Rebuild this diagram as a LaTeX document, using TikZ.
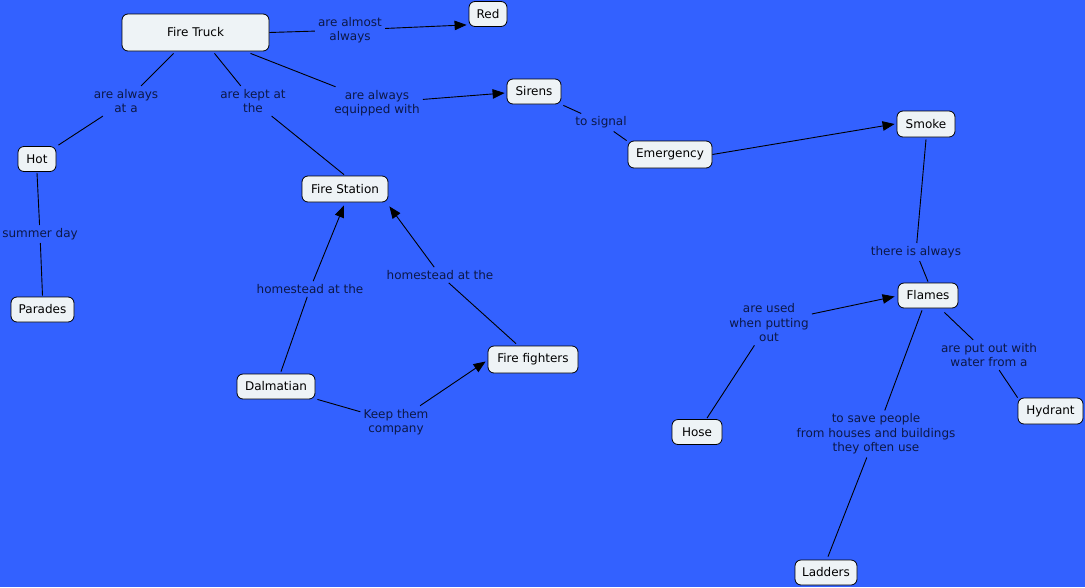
\documentclass[tikz,border=0pt]{standalone}
\usepackage{fontspec}
\setmainfont{DejaVu Sans}
\usetikzlibrary{arrows.meta,calc}
\definecolor{bg}{RGB}{51,97,255}
\definecolor{nodefill}{RGB}{238,243,246}
\definecolor{labcol}{RGB}{12,24,72}
\begin{document}
\begin{tikzpicture}[x=1pt,y=-1pt,
  concept/.style={draw=black, line width=0.8pt, rounded corners=6pt, fill=nodefill, inner sep=0pt, font=\fontsize{12}{14}\selectfont, text=black, align=center},
  lab/.style={inner sep=3pt, font=\fontsize{12}{14.5}\selectfont, text=labcol, align=center},
  link/.style={line width=0.9pt, draw=black},
  arr/.style={link, -{Triangle[length=12pt,width=9.5pt]}}]
\fill[bg] (0,0) rectangle (1085,587);
\useasboundingbox (0,0) rectangle (1085,587);
% concepts
\node[concept, minimum width=147pt, minimum height=37pt] (truck) at (195.5,32.5) {Fire Truck};
\node[concept, minimum width=38pt, minimum height=25pt] (red) at (488,14) {Red};
\node[concept, minimum width=54pt, minimum height=25pt] (sirens) at (534,91.5) {Sirens};
\node[concept, minimum width=38pt, minimum height=25pt] (hot) at (37,159) {Hot};
\node[concept, minimum width=86pt, minimum height=26pt] (station) at (345,189) {Fire Station};
\node[concept, minimum width=84pt, minimum height=27pt] (emerg) at (670,154.5) {Emergency};
\node[concept, minimum width=58pt, minimum height=26pt] (smoke) at (926,124) {Smoke};
\node[concept, minimum width=63pt, minimum height=25pt] (parades) at (42.5,309.5) {Parades};
\node[concept, minimum width=60pt, minimum height=25pt] (flames) at (928,295.5) {Flames};
\node[concept, minimum width=78pt, minimum height=25pt] (dalm) at (276,386.5) {Dalmatian};
\node[concept, minimum width=90pt, minimum height=27pt] (fighters) at (533,359.5) {Fire fighters};
\node[concept, minimum width=50pt, minimum height=25pt] (hose) at (697,432) {Hose};
\node[concept, minimum width=65pt, minimum height=26pt] (hydrant) at (1050.5,411) {Hydrant};
\node[concept, minimum width=62pt, minimum height=25pt] (ladders) at (826,572.5) {Ladders};
% linking phrases
\node[lab] (l1) at (350,30) {are almost\\always};
\node[lab] (l2) at (126,101) {are always\\at a};
\node[lab] (l3) at (253,101) {are kept at\\the};
\node[lab] (l4) at (377,103) {are always\\equipped with};
\node[lab] (l5) at (601,122.5) {to signal};
\node[lab] (l6) at (40,234) {summer day};
\node[lab] (l7) at (310,289) {homestead at the};
\node[lab] (l8) at (440,275) {homestead at the};
\node[lab] (l9) at (396,422) {Keep them\\company};
\node[lab] (l10) at (916,252) {there is always};
\node[lab] (l11) at (769,323) {are used\\when putting\\out};
\node[lab] (l12) at (989,355) {are put out with\\water from a};
\node[lab] (l13) at (876,434) {to save people\\from houses and buildings\\they often use};
% connectors
\draw[link] (truck.east) -- (l1); \draw[arr] (l1) -- ($(red.south west)+(-2,-2)$);
\draw[link] ($(truck.south)+(-22,2)$) -- (l2); \draw[link] (l2) -- ($(hot.north east)+(2,-1)$);
\draw[link] ($(truck.south)+(19,2)$) -- (l3); \draw[link] (l3) -- ($(station.north)+(-1,-1)$);
\draw[link] ($(truck.south)+(55,2)$) -- (l4); \draw[arr] (l4) -- ($(sirens.west)+(-2,1.5)$);
\draw[link] ($(sirens.south east)+(2,1)$) -- (l5); \draw[link] (l5) -- ($(emerg.north west)+(-1,0)$);
\draw[arr] (emerg.east) -- ($(smoke.west)+(-2,0)$);
\draw[link] ($(hot.south)+(0,1)$) -- (l6); \draw[link] (l6) -- ($(parades.north)+(0,-1)$);
\draw[link] ($(dalm.north)+(5,-2)$) -- (l7); \draw[arr] (l7) -- ($(station.south)+(-1,3)$);
\draw[link] ($(fighters.north)+(-17,-2)$) -- (l8); \draw[arr] (l8) -- ($(station.south east)+(1,4)$);
\draw[link] ($(dalm.south east)+(2,0)$) -- (l9); \draw[arr] (l9) -- ($(fighters.west)+(-2,2)$);
\draw[link] ($(smoke.south)+(0,2)$) -- (l10); \draw[link] (l10) -- ($(flames.north)+(0,-1)$);
\draw[link] ($(hose.north)+(10,-1)$) -- (l11); \draw[arr] (l11) -- ($(flames.west)+(-3,1)$);
\draw[link] ($(flames.south east)+(-14,4)$) -- (l12); \draw[link] (l12) -- (hydrant.north west);
\draw[link] ($(flames.south)+(-6,2)$) -- (l13); \draw[link] (l13) -- ($(ladders.north)+(2,-3)$);
\end{tikzpicture}
\end{document}
